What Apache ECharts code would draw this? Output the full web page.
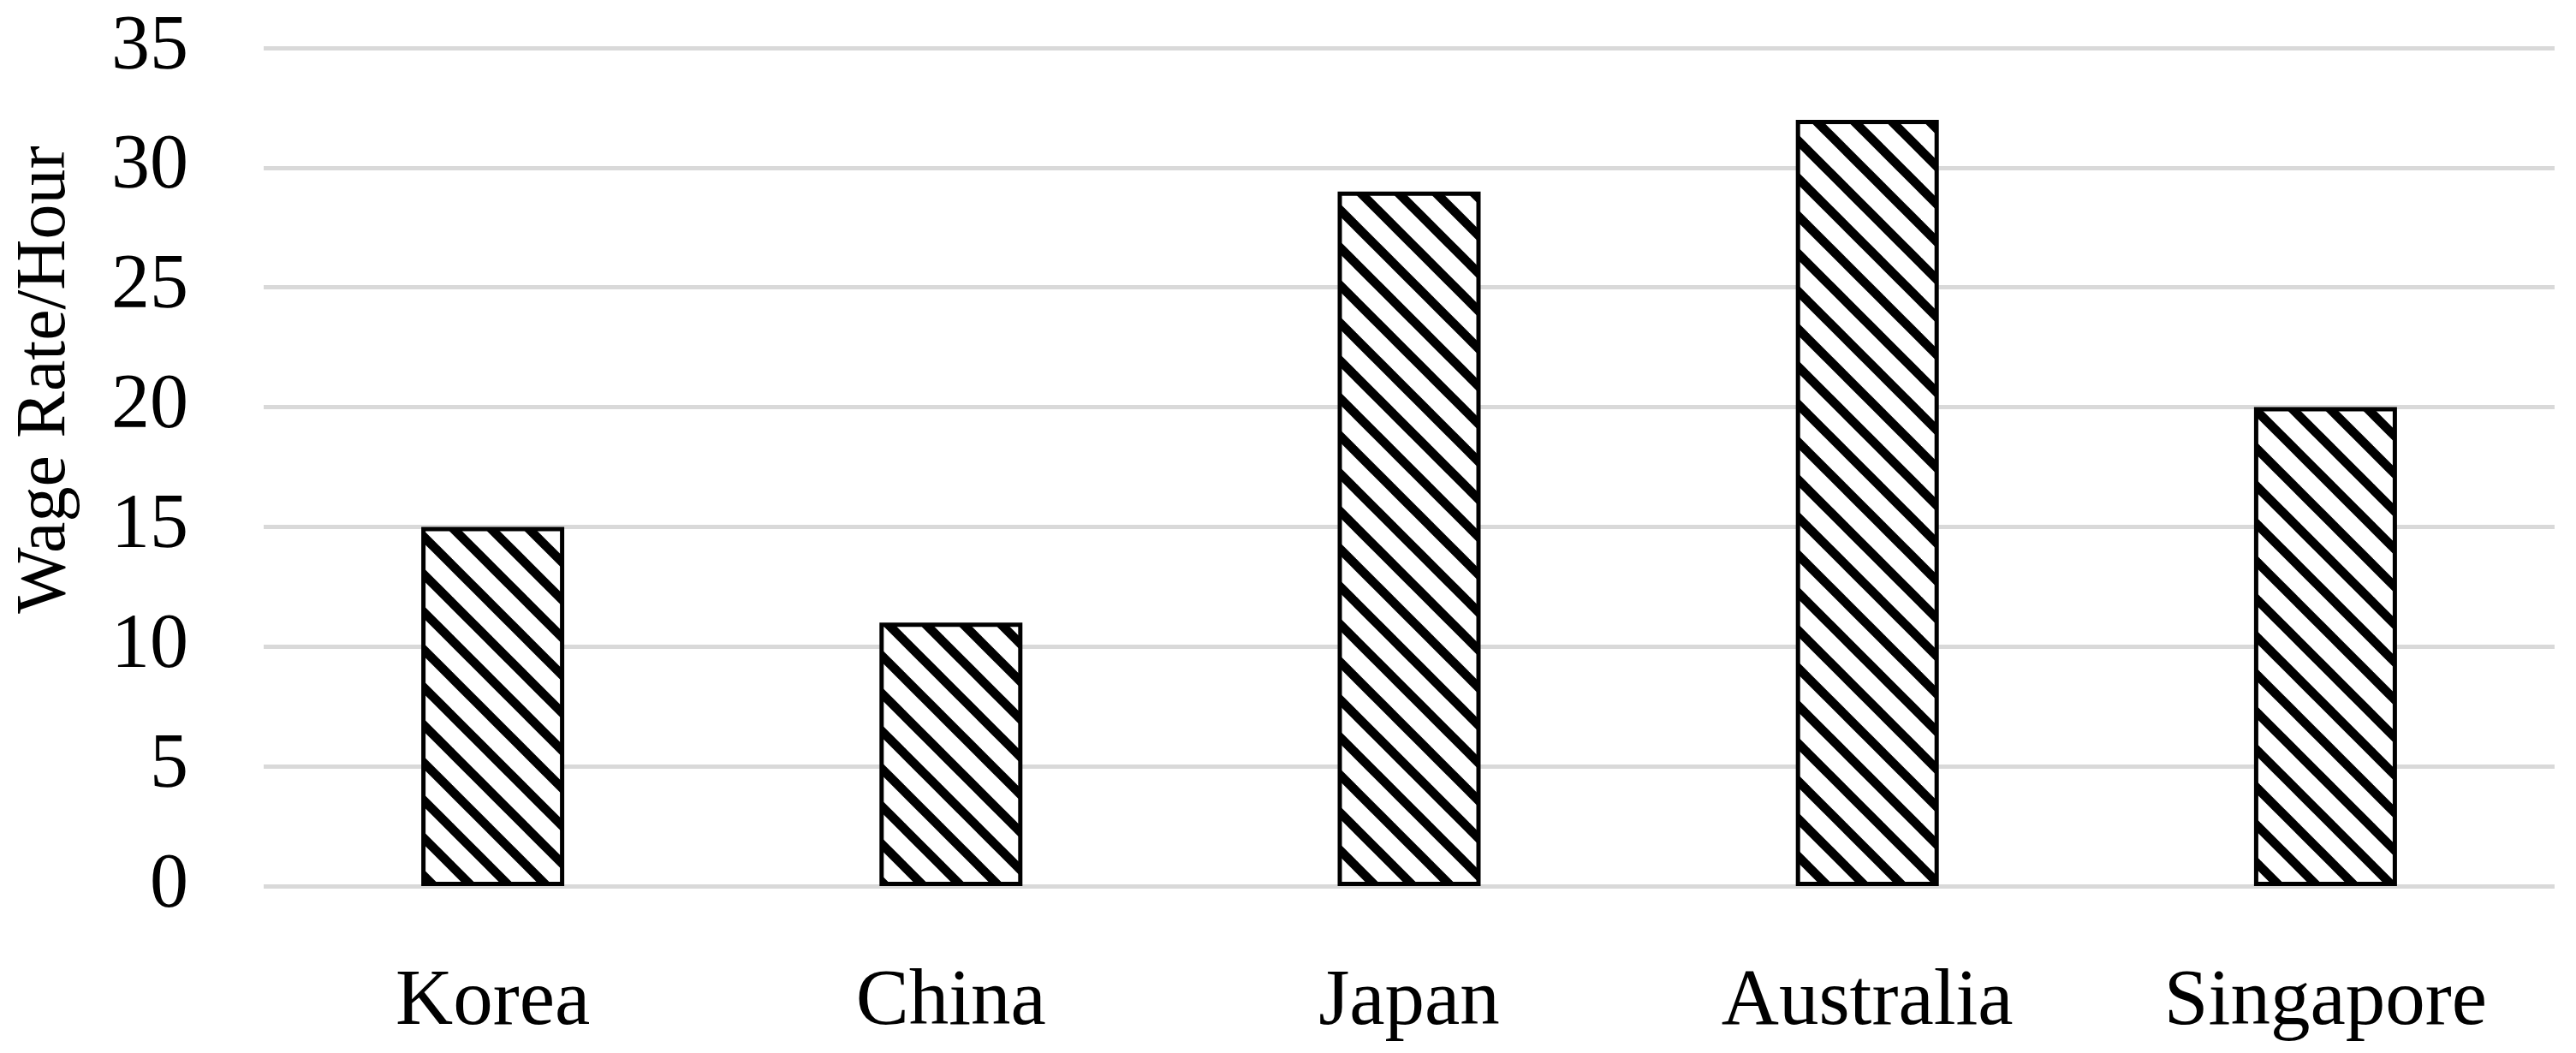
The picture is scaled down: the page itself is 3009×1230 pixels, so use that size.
<!DOCTYPE html>
<html>
<head>
<meta charset="utf-8">
<script src="https://cdn.jsdelivr.net/npm/echarts@6/dist/echarts.min.js"></script>
<style>
  html, body { margin: 0; padding: 0; background: #fff; }
  #chart { width: 3009px; height: 1230px; }
</style>
</head>
<body>
<div id="chart"></div>
<script>
// data
var countries = ["Korea", "China", "Japan", "Australia", "Singapore"];
var wageRate = [15, 11, 29, 32, 20];
var yTicks = [0, 5, 10, 15, 20, 25, 30, 35];

// diagonal hatch fill (top-left to bottom-right)
function makeHatch() {
  var size = 44;
  var c = document.createElement("canvas");
  c.width = size;
  c.height = size;
  var ctx = c.getContext("2d");
  ctx.fillStyle = "#fff";
  ctx.fillRect(0, 0, size, size);
  ctx.strokeStyle = "#000";
  ctx.lineWidth = 10.5;
  [-size, 0, size].forEach(function (k) {
    ctx.beginPath();
    ctx.moveTo(k - 12, -12);
    ctx.lineTo(k + size + 12, size + 12);
    ctx.stroke();
  });
  return c;
}

var font = "'Liberation Serif', 'DejaVu Serif', serif";
var chart = echarts.init(document.getElementById("chart"));

var option = {
  animation: false,
  backgroundColor: "#fff",
  grid: { left: 308, right: 25, top: 56, bottom: 195, outerBoundsMode: "none" },
  xAxis: {
    type: "category",
    data: countries,
    axisLine: { show: false },
    axisTick: { show: false },
    axisLabel: { color: "#000", fontFamily: font, fontSize: 93, margin: 90 }
  },
  yAxis: {
    type: "value",
    min: yTicks[0],
    max: yTicks[yTicks.length - 1],
    interval: 5,
    name: "Wage Rate/Hour",
    nameLocation: "middle",
    nameRotate: 90,
    nameGap: 214,
    nameTextStyle: { color: "#000", fontFamily: font, fontSize: 82, padding: [0, 0, 0, 204] },
    axisLine: { show: false },
    axisTick: { show: false },
    axisLabel: { color: "#000", fontFamily: font, fontSize: 90, margin: 88 },
    splitLine: { lineStyle: { color: "#d9d9d9", width: 5 } }
  },
  series: [
    {
      type: "bar",
      data: wageRate,
      barWidth: 167,
      itemStyle: {
        color: { image: makeHatch(), repeat: "repeat" },
        borderColor: "#000",
        borderWidth: 5
      }
    }
  ]
};
chart.setOption(option);
</script>
</body>
</html>
